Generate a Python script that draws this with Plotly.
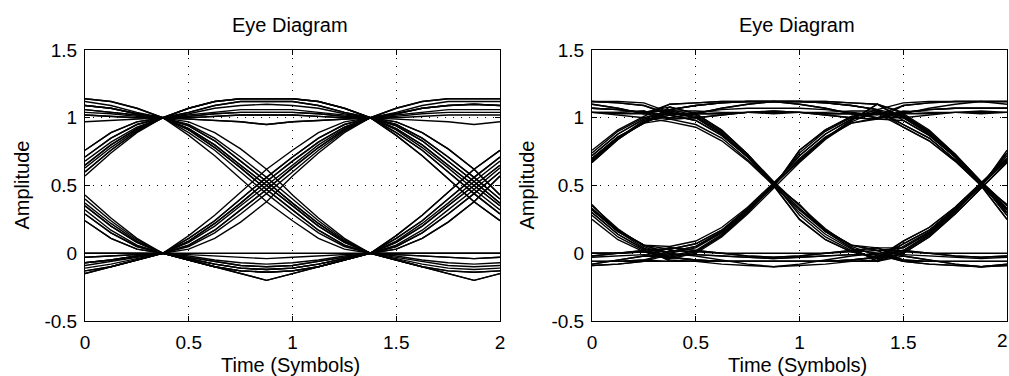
import plotly.graph_objects as go

# ---------------- data ----------------
time_symbols = [0, 0.125, 0.25, 0.375, 0.5, 0.625, 0.75, 0.875, 1.0,
                1.125, 1.25, 1.375, 1.5, 1.625, 1.75, 1.875, 2.0]
x_ticks = [0, 0.5, 1, 1.5, 2]
x_tick_labels = ["0", "0.5", "1", "1.5", "2"]
y_ticks = [-0.5, 0, 0.5, 1, 1.5]
y_tick_labels = ["-0.5", "0", "0.5", "1", "1.5"]

# Left eye: one-symbol segments (sample point to sample point, 8 samples/symbol)
left_rise_a = [0.00, 0.08, 0.20, 0.35, 0.50, 0.65, 0.80, 0.92, 1.00]
left_rise_b = [0.00, 0.05, 0.15, 0.29, 0.44, 0.60, 0.76, 0.90, 1.00]
left_rise_c = [0.00, 0.11, 0.24, 0.40, 0.56, 0.71, 0.85, 0.95, 1.00]
left_rise_d = [0.00, 0.03, 0.11, 0.23, 0.38, 0.57, 0.74, 0.89, 1.00]
left_rise_e = [0.00, 0.13, 0.28, 0.45, 0.62, 0.76, 0.89, 0.97, 1.00]
left_rise_f = [0.00, 0.06, 0.17, 0.32, 0.47, 0.63, 0.78, 0.91, 1.00]
left_rise_g = [0.00, 0.09, 0.22, 0.37, 0.53, 0.68, 0.82, 0.93, 1.00]
left_fall_a = [1.00, 0.92, 0.80, 0.65, 0.50, 0.35, 0.20, 0.08, 0.00]
left_fall_b = [1.00, 0.95, 0.85, 0.71, 0.56, 0.40, 0.24, 0.10, 0.00]
left_fall_c = [1.00, 0.89, 0.76, 0.60, 0.44, 0.29, 0.15, 0.05, 0.00]
left_fall_d = [1.00, 0.97, 0.89, 0.77, 0.62, 0.43, 0.26, 0.11, 0.00]
left_fall_e = [1.00, 0.87, 0.72, 0.55, 0.38, 0.24, 0.11, 0.03, 0.00]
left_fall_f = [1.00, 0.94, 0.83, 0.68, 0.53, 0.37, 0.22, 0.09, 0.00]
left_fall_g = [1.00, 0.91, 0.78, 0.63, 0.47, 0.32, 0.17, 0.06, 0.00]
left_high_a = [1.00, 1.07, 1.12, 1.14, 1.14, 1.14, 1.12, 1.07, 1.00]
left_high_b = [1.00, 1.03, 1.07, 1.09, 1.10, 1.09, 1.07, 1.03, 1.00]
left_high_c = [1.00, 1.02, 1.04, 1.06, 1.06, 1.06, 1.04, 1.02, 1.00]
left_high_d = [1.00, 1.00, 1.01, 1.02, 1.02, 1.02, 1.01, 1.00, 1.00]
left_high_e = [1.00, 0.99, 0.98, 0.97, 0.95, 0.97, 0.98, 0.99, 1.00]
left_high_f = [1.00, 1.04, 1.09, 1.12, 1.12, 1.12, 1.09, 1.04, 1.00]
left_high_g = [1.00, 1.01, 1.03, 1.04, 1.04, 1.04, 1.03, 1.01, 1.00]
left_low_a = [0.00, -0.05, -0.10, -0.13, -0.14, -0.13, -0.10, -0.05, 0.00]
left_low_b = [0.00, -0.02, -0.05, -0.07, -0.08, -0.07, -0.05, -0.02, 0.00]
left_low_c = [0.00, 0.00, 0.00, 0.00, 0.00, 0.00, 0.00, 0.00, 0.00]
left_low_d = [0.00, -0.05, -0.10, -0.15, -0.20, -0.15, -0.10, -0.05, 0.00]
left_low_e = [0.00, -0.01, -0.02, -0.03, -0.04, -0.03, -0.02, -0.01, 0.00]
left_low_f = [0.00, -0.04, -0.08, -0.11, -0.12, -0.11, -0.08, -0.04, 0.00]
left_low_g = [0.00, -0.03, -0.06, -0.09, -0.10, -0.09, -0.06, -0.03, 0.00]

# Right eye
right_rise_a = [0.00, 0.04, 0.15, 0.31, 0.50, 0.69, 0.85, 0.96, 1.00]
right_rise_b = [-0.04, 0.00, 0.12, 0.29, 0.48, 0.67, 0.84, 0.97, 1.05]
right_rise_c = [0.03, 0.07, 0.17, 0.33, 0.51, 0.72, 0.88, 0.99, 1.03]
right_rise_d = [-0.02, 0.02, 0.14, 0.31, 0.50, 0.74, 0.90, 1.00, 1.06]
right_rise_e = [0.05, 0.09, 0.19, 0.34, 0.52, 0.70, 0.86, 0.96, 0.99]
right_rise_f = [0.01, 0.05, 0.16, 0.32, 0.49, 0.76, 0.91, 1.01, 1.04]
right_rise_g = [-0.03, 0.01, 0.13, 0.30, 0.51, 0.68, 0.85, 0.98, 1.10]
right_fall_a = [1.02, 0.98, 0.87, 0.71, 0.52, 0.33, 0.17, 0.06, 0.02]
right_fall_b = [1.06, 1.02, 0.90, 0.73, 0.53, 0.35, 0.18, 0.05, -0.02]
right_fall_c = [0.99, 0.95, 0.85, 0.69, 0.51, 0.30, 0.14, 0.03, 0.00]
right_fall_d = [1.05, 1.01, 0.89, 0.72, 0.52, 0.28, 0.12, 0.02, -0.04]
right_fall_e = [0.97, 0.93, 0.83, 0.68, 0.50, 0.32, 0.16, 0.06, 0.04]
right_fall_f = [1.04, 1.00, 0.88, 0.71, 0.50, 0.25, 0.10, 0.01, -0.03]
right_fall_g = [1.08, 1.03, 0.91, 0.73, 0.51, 0.36, 0.16, 0.04, -0.06]
right_high_a = [1.06, 1.09, 1.11, 1.12, 1.12, 1.12, 1.11, 1.09, 1.06]
right_high_b = [1.02, 1.04, 1.06, 1.07, 1.07, 1.07, 1.06, 1.04, 1.02]
right_high_c = [1.05, 1.05, 1.04, 1.04, 1.03, 1.04, 1.04, 1.05, 1.05]
right_high_d = [1.00, 1.03, 1.07, 1.10, 1.12, 1.10, 1.07, 1.03, 1.00]
right_high_e = [0.99, 1.00, 1.02, 1.04, 1.05, 1.04, 1.02, 1.00, 0.99]
right_high_f = [1.10, 1.11, 1.12, 1.12, 1.12, 1.12, 1.12, 1.11, 1.10]
right_high_g = [1.03, 1.03, 1.03, 1.04, 1.04, 1.04, 1.03, 1.03, 1.03]
right_low_a = [-0.03, -0.05, -0.06, -0.06, -0.06, -0.06, -0.06, -0.05, -0.03]
right_low_b = [0.02, 0.01, 0.00, 0.00, 0.00, 0.00, 0.00, 0.01, 0.02]
right_low_c = [-0.05, -0.06, -0.08, -0.09, -0.10, -0.09, -0.08, -0.06, -0.05]
right_low_d = [0.04, 0.02, 0.00, -0.02, -0.03, -0.02, 0.00, 0.02, 0.04]
right_low_e = [0.00, -0.02, -0.05, -0.08, -0.10, -0.08, -0.05, -0.02, 0.00]
right_low_f = [-0.06, -0.06, -0.06, -0.06, -0.06, -0.06, -0.06, -0.06, -0.06]
right_low_g = [-0.01, -0.01, -0.02, -0.03, -0.04, -0.03, -0.02, -0.01, -0.01]

# traces: (previous symbol, current symbol, next symbol) segment names
trace_patterns = [
    ("rise_a", "high_a", "fall_b"), ("high_b", "high_b", "high_a"),
    ("rise_c", "high_c", "fall_d"), ("high_d", "high_d", "high_c"),
    ("rise_e", "high_e", "fall_a"), ("fall_a", "rise_a", "high_b"),
    ("low_b", "rise_b", "fall_c"), ("fall_c", "rise_c", "high_d"),
    ("low_d", "rise_d", "fall_e"), ("fall_e", "rise_e", "high_a"),
    ("high_a", "fall_a", "low_c"), ("rise_b", "fall_b", "rise_d"),
    ("high_c", "fall_c", "low_a"), ("rise_d", "fall_d", "rise_b"),
    ("high_e", "fall_e", "low_e"), ("fall_b", "low_a", "rise_c"),
    ("low_c", "low_b", "low_d"), ("fall_d", "low_c", "rise_e"),
    ("low_e", "low_d", "rise_a"), ("low_a", "low_e", "low_b"),
    ("high_b", "high_a", "fall_c"), ("low_b", "low_d", "low_a"),
    ("fall_a", "rise_c", "fall_b"), ("rise_b", "fall_a", "rise_a"),
    ("high_c", "high_e", "high_b"), ("low_d", "low_a", "rise_d"),
    ("rise_f", "high_f", "fall_g"), ("high_g", "high_f", "high_b"),
    ("rise_g", "high_g", "fall_f"), ("fall_f", "rise_f", "high_g"),
    ("low_g", "rise_g", "fall_a"), ("high_f", "fall_f", "low_g"),
    ("rise_a", "fall_g", "rise_f"), ("fall_g", "low_f", "rise_g"),
    ("low_f", "low_g", "low_f"), ("low_a", "low_f", "rise_b"),
    ("high_a", "high_g", "fall_e"), ("rise_c", "high_d", "fall_f"),
    ("fall_c", "rise_f", "fall_d"), ("low_e", "rise_g", "high_e"),
    ("high_b", "fall_g", "rise_c"), ("rise_e", "fall_f", "low_d"),
    ("fall_e", "low_g", "low_c"), ("low_b", "low_a", "rise_e"),
    ("high_d", "high_a", "high_f"), ("low_c", "low_f", "low_e"),
]

g = globals()
left_segments = {k[5:]: v for k, v in g.items() if k.startswith("left_") and isinstance(v, list)}
right_segments = {k[6:]: v for k, v in g.items() if k.startswith("right_") and isinstance(v, list)}


def trace_values(segs, pattern):
    p, a, s = pattern
    return segs[p][5:8] + segs[a] + segs[s][1:6]


fig = go.Figure()
for segs, xa, ya in [(left_segments, "x", "y"), (right_segments, "x2", "y2")]:
    for pat in trace_patterns:
        fig.add_trace(go.Scatter(
            x=time_symbols, y=trace_values(segs, pat), mode="lines",
            line=dict(color="black", width=1.4), xaxis=xa, yaxis=ya,
            showlegend=False, hoverinfo="skip"))

W, H = 1009, 376
FONT = "Liberation Sans, Arial, sans-serif"
axis_common = dict(
    showline=True, linecolor="black", linewidth=1, mirror="ticks",
    ticks="inside", ticklen=5, tickcolor="black", tickwidth=1,
    showgrid=True, gridcolor="black", gridwidth=1, griddash="1px,7px",
    zeroline=False, automargin=False,
    tickfont=dict(family=FONT, size=19, color="black"),
)
ydom = [1 - 321 / H, 1 - 50 / H]
fig.update_layout(
    width=W, height=H, margin=dict(l=0, r=0, t=0, b=0, autoexpand=False),
    paper_bgcolor="white", plot_bgcolor="white",
    xaxis=dict(domain=[85 / W, 500 / W], range=[0, 2], tickvals=x_ticks,
               ticktext=x_tick_labels, anchor="y", ticklabelstandoff=4, **axis_common),
    yaxis=dict(domain=ydom, range=[-0.5, 1.5], tickvals=y_ticks,
               ticktext=y_tick_labels, anchor="x", ticklabelstandoff=3, **axis_common),
    xaxis2=dict(domain=[592 / W, 1007 / W], range=[0, 2], tickvals=x_ticks,
                ticktext=x_tick_labels, anchor="y2", ticklabelstandoff=4, **axis_common),
    yaxis2=dict(domain=ydom, range=[-0.5, 1.5], tickvals=y_ticks,
                ticktext=y_tick_labels, anchor="x2", ticklabelstandoff=3, **axis_common),
)

tfont = dict(family=FONT, size=20, color="black")
for cx, ax_x in [(290, 21), (797, 526)]:
    fig.add_annotation(x=cx / W, y=1 - 25 / H, xref="paper", yref="paper",
                       text="Eye Diagram", showarrow=False, font=tfont,
                       xanchor="center", yanchor="middle")
    fig.add_annotation(x=cx / W, y=1 - 365 / H, xref="paper", yref="paper",
                       text="Time (Symbols)", showarrow=False, font=tfont,
                       xanchor="center", yanchor="middle")
    fig.add_annotation(x=ax_x / W, y=1 - 185.5 / H, xref="paper", yref="paper",
                       text="Amplitude", showarrow=False, font=tfont, textangle=-90,
                       xanchor="center", yanchor="middle")

# last x tick label of the right axes sits at the page edge; keep it fully visible
fig.add_annotation(x=1.0, y=1 - 340 / H, xref="paper", yref="paper",
                   text=x_tick_labels[-1], showarrow=False,
                   font=dict(family=FONT, size=19, color="black"),
                   xanchor="right", yanchor="middle", borderpad=0)

fig.write_html("out.html", config={"displayModeBar": False},
               post_script="document.body.style.margin='0';document.body.style.overflow='hidden';")
